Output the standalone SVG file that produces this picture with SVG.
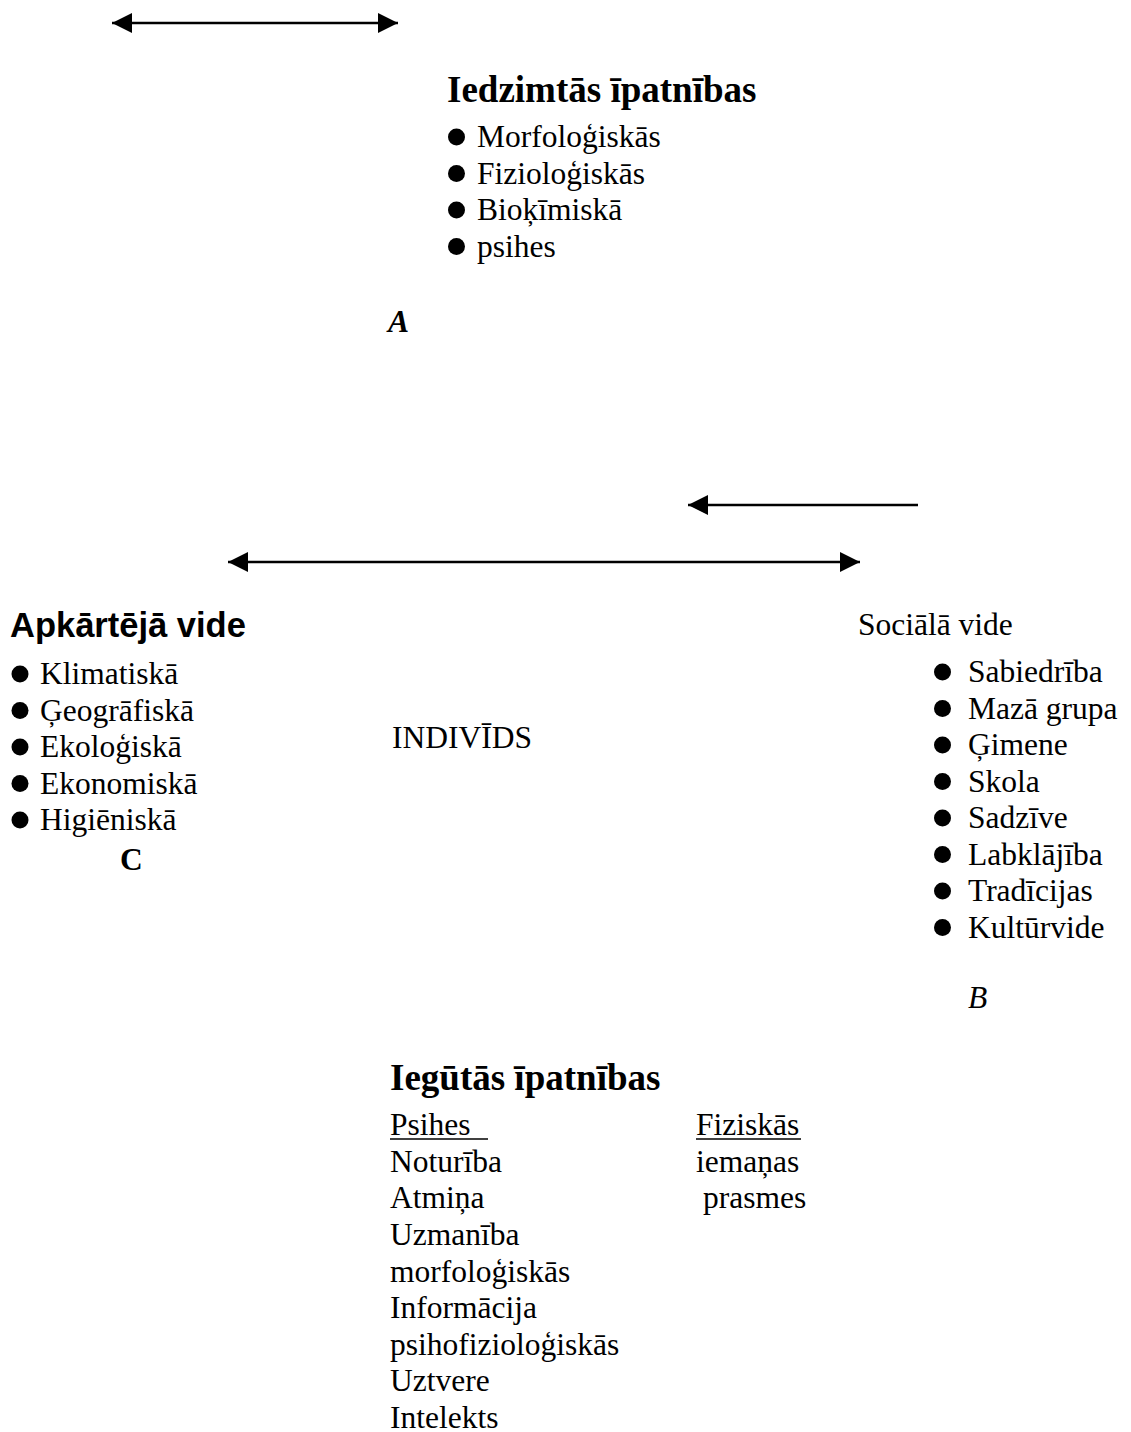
<svg xmlns="http://www.w3.org/2000/svg" width="1131" height="1432" viewBox="0 0 1131 1432">
<defs>
<style>
text{font-family:"Liberation Serif","Times New Roman",serif;font-size:31.5px;fill:#000}
.h{font-weight:bold;font-size:37px}
.ha{font-family:"Liberation Sans",Arial,sans-serif;font-weight:bold;font-size:34.5px}
.it{font-style:italic;font-weight:bold}
.i{font-style:italic}
.b{font-weight:bold}
line.c{stroke:#000;stroke-width:2.5}
line.u{stroke:#000;stroke-width:1.5}
circle{fill:#000}
</style>
<marker id="ah" viewBox="0 0 20 20" refX="20" refY="10" markerWidth="20" markerHeight="20" markerUnits="userSpaceOnUse" orient="auto-start-reverse">
<path d="M0,0 L20,10 L0,20 Z" fill="#000"/>
</marker>
</defs>
<rect width="1131" height="1432" fill="#fff"/>
<g id="connectors">
<line class="c" x1="112" y1="23" x2="398" y2="23" marker-start="url(#ah)" marker-end="url(#ah)"/>
<line class="c" x1="918" y1="505" x2="688" y2="505" marker-end="url(#ah)"/>
<line class="c" x1="228" y1="562" x2="860" y2="562" marker-start="url(#ah)" marker-end="url(#ah)"/>
</g>
<g id="iedzimtas">
<text class="h" x="447" y="102">Iedzimtās īpatnības</text>
<circle cx="456.5" cy="137" r="8.5"/><text x="477" y="147">Morfoloģiskās</text>
<circle cx="456.5" cy="173.5" r="8.5"/><text x="477" y="183.5">Fizioloģiskās</text>
<circle cx="456.5" cy="210" r="8.5"/><text x="477" y="220">Bioķīmiskā</text>
<circle cx="456.5" cy="246.5" r="8.5"/><text x="477" y="256.5">psihes</text>
<text class="it" x="388" y="332">A</text>
</g>
<g id="apkartejavide">
<text class="ha" x="10" y="637">Apkārtējā vide</text>
<circle cx="20" cy="674" r="8.5"/><text x="40" y="684">Klimatiskā</text>
<circle cx="20" cy="710.5" r="8.5"/><text x="40" y="720.5">Ģeogrāfiskā</text>
<circle cx="20" cy="747" r="8.5"/><text x="40" y="757">Ekoloģiskā</text>
<circle cx="20" cy="783.5" r="8.5"/><text x="40" y="793.5">Ekonomiskā</text>
<circle cx="20" cy="820" r="8.5"/><text x="40" y="830">Higiēniskā</text>
<text class="b" x="120" y="870">C</text>
</g>
<g id="individs">
<text x="392" y="748">INDIVĪDS</text>
</g>
<g id="socialavide">
<text x="858" y="635">Sociālā vide</text>
<circle cx="942.5" cy="672" r="8.5"/><text x="968" y="682">Sabiedrība</text>
<circle cx="942.5" cy="708.5" r="8.5"/><text x="968" y="718.5">Mazā grupa</text>
<circle cx="942.5" cy="745" r="8.5"/><text x="968" y="755">Ģimene</text>
<circle cx="942.5" cy="781.5" r="8.5"/><text x="968" y="791.5">Skola</text>
<circle cx="942.5" cy="818" r="8.5"/><text x="968" y="828">Sadzīve</text>
<circle cx="942.5" cy="854.5" r="8.5"/><text x="968" y="864.5">Labklājība</text>
<circle cx="942.5" cy="891" r="8.5"/><text x="968" y="901">Tradīcijas</text>
<circle cx="942.5" cy="927.5" r="8.5"/><text x="968" y="937.5">Kultūrvide</text>
<text class="i" x="968" y="1008">B</text>
</g>
<g id="iegutas">
<text class="h" x="390" y="1090">Iegūtās īpatnības</text>
<text x="390" y="1135">Psihes</text>
<line class="u" x1="390" y1="1139" x2="488" y2="1139"/>
<text x="390" y="1172">Noturība</text>
<text x="390" y="1208">Atmiņa</text>
<text x="390" y="1245">Uzmanība</text>
<text x="390" y="1282">morfoloģiskās</text>
<text x="390" y="1318">Informācija</text>
<text x="390" y="1355">psihofizioloģiskās</text>
<text x="390" y="1391">Uztvere</text>
<text x="390" y="1428">Intelekts</text>
<text x="696" y="1135">Fiziskās</text>
<line class="u" x1="696" y1="1139" x2="801" y2="1139"/>
<text x="696" y="1172">iemaņas</text>
<text x="703" y="1208">prasmes</text>
</g>
</svg>
